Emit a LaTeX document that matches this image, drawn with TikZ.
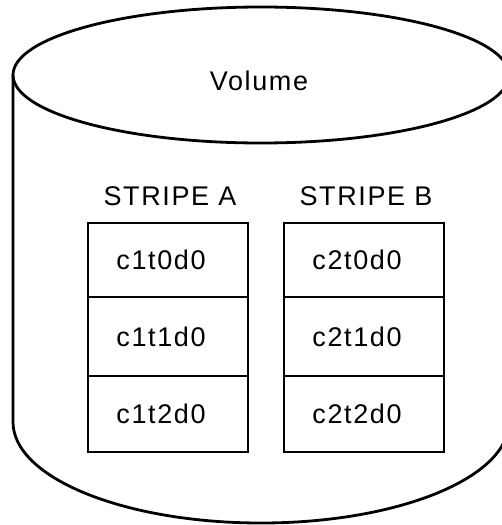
\documentclass[tikz,border=0pt]{standalone}
\usepackage{fontspec}
\setmainfont{Liberation Sans}
\newfontfamily\labelfont[LetterSpace=6]{Liberation Sans}
\begin{document}
\begin{tikzpicture}[x=1pt,y=-1pt,
  outline/.style={line width=2.8pt, black},
  cell/.style={draw, line width=2.8pt, minimum width=160pt, inner sep=0pt},
  txt/.style={font=\labelfont\fontsize{27pt}{32pt}\selectfont, inner sep=0pt, anchor=center}]
  \useasboundingbox (0,0) rectangle (502,525);
  \clip (0,0) rectangle (502,525);

  % cylinder body
  \draw[outline] (13,75) -- (13,422)
     arc[start angle=180, end angle=360, x radius=248pt, y radius=101pt]
     -- (509,75);
  \draw[outline] (261,75) ellipse [x radius=248pt, y radius=68pt];
  \node[txt] (vol) at (259,81) {Volume};

  % stripe A
  \node[txt] (sa) at (170,196) {STRIPE A};
  \node[cell, minimum height=74pt] (a0) at (168,260) {};
  \node[cell, minimum height=79pt] (a1) at (168,336.5) {};
  \node[cell, minimum height=76pt] (a2) at (168,414) {};
  \node[txt] (ta0) at ([xshift=-7pt]a0.center) {c1t0d0};
  \node[txt] (ta1) at ([xshift=-7pt]a1.center) {c1t1d0};
  \node[txt] (ta2) at ([xshift=-7pt]a2.center) {c1t2d0};

  % stripe B
  \node[txt] (sb) at (366,196) {STRIPE B};
  \node[cell, minimum height=74pt] (b0) at (364,260) {};
  \node[cell, minimum height=79pt] (b1) at (364,336.5) {};
  \node[cell, minimum height=76pt] (b2) at (364,414) {};
  \node[txt] (tb0) at ([xshift=-7pt]b0.center) {c2t0d0};
  \node[txt] (tb1) at ([xshift=-7pt]b1.center) {c2t1d0};
  \node[txt] (tb2) at ([xshift=-7pt]b2.center) {c2t2d0};
\end{tikzpicture}
\end{document}
